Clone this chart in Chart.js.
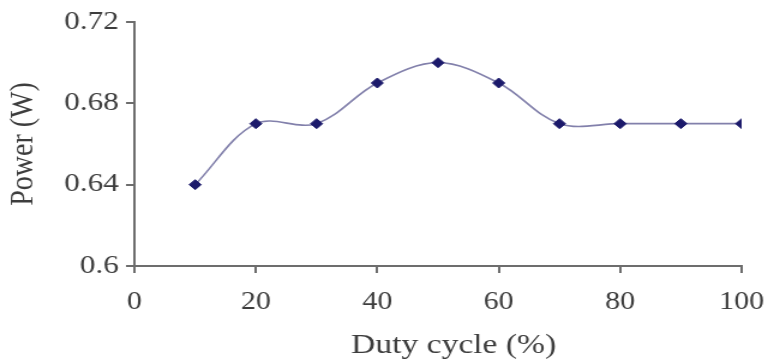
<!DOCTYPE html>
<html>
<head>
<meta charset="utf-8">
<script src="https://cdn.jsdelivr.net/npm/chart.js@4.4.0/dist/chart.umd.min.js"></script>
<style>
  html, body { margin: 0; padding: 0; background: #fff; overflow: hidden; }
  #wrap { width: 774px; height: 361px; }
  /* the plot is drawn narrow and widened, giving the broad serif lettering */
  #power-chart { transform: scaleX(1.2); transform-origin: 0 0; }
</style>
</head>
<body>
<div id="wrap"><canvas id="power-chart" width="645" height="361"></canvas></div>
<script>
const dutyCycle = [10, 20, 30, 40, 50, 60, 70, 80, 90, 100];
const power = [0.64, 0.67, 0.67, 0.69, 0.70, 0.69, 0.67, 0.67, 0.67, 0.67];
const yTicks = [0.6, 0.64, 0.68, 0.72];
const xTicks = [0, 20, 40, 60, 80, 100];
const xTitle = 'Duty cycle (%)';
const yTitle = 'Power (W)';

const serif = '"Liberation Serif", "DejaVu Serif", serif';
const axisGray = '#6d6d6d';
const textGray = '#3d3d3d';

// x-axis caption sits a little right of the plot centre, so it is drawn by hand
const xCaption = {
    id: 'xCaption',
    afterDraw(chart) {
        const c = chart.ctx;
        const area = chart.chartArea;
        c.save();
        c.font = '28px ' + serif;
        c.fillStyle = textGray;
        c.textAlign = 'center';
        c.textBaseline = 'middle';
        c.fillText(xTitle, (area.left + area.right) / 2 + 13, 346);
        c.restore();
    }
};

const ctx = document.getElementById('power-chart').getContext('2d');
new Chart(ctx, {
    type: 'line',
    data: {
        datasets: [{
            data: dutyCycle.map((x, i) => ({ x: x, y: power[i] })),
            borderColor: '#8280ab',
            borderWidth: 1.6,
            tension: 0.35,
            pointStyle: 'rectRot',
            pointRadius: 5,
            pointBackgroundColor: '#1c1a6b',
            pointBorderColor: '#1c1a6b',
            pointBorderWidth: 1,
            fill: false
        }]
    },
    options: {
        responsive: false,
        animation: false,
        layout: { padding: { left: 0, right: 27, top: 22, bottom: 0 } },
        plugins: { legend: { display: false }, tooltip: { enabled: false } },
        scales: {
            x: {
                type: 'linear',
                min: 0,
                max: 100,
                afterBuildTicks: axis => { axis.ticks = xTicks.map(v => ({ value: v })); },
                afterFit: axis => {
                    axis.height = 95;
                    // plot edges come from the layout padding alone
                    axis.paddingLeft = 0;
                    axis.paddingRight = 0;
                },
                border: { color: axisGray, width: 2 },
                grid: { drawOnChartArea: false, color: axisGray, tickLength: 7, lineWidth: 2 },
                ticks: { color: textGray, font: { family: serif, size: 25 }, padding: 14, maxRotation: 0 }
            },
            y: {
                min: 0.6,
                max: 0.72,
                afterBuildTicks: axis => { axis.ticks = yTicks.map(v => ({ value: v })); },
                afterFit: axis => { axis.width = 112; },
                border: { color: axisGray, width: 2 },
                grid: { drawOnChartArea: false, color: axisGray, tickLength: 7, lineWidth: 2 },
                ticks: {
                    color: textGray,
                    font: { family: serif, size: 26 },
                    padding: 6,
                    callback: v => String(Math.round(v * 100) / 100)
                },
                title: {
                    display: true,
                    text: yTitle,
                    color: textGray,
                    font: { family: serif, size: 28 },
                    padding: { top: 3, bottom: 0 }
                }
            }
        }
    },
    plugins: [xCaption]
});
</script>
</body>
</html>
